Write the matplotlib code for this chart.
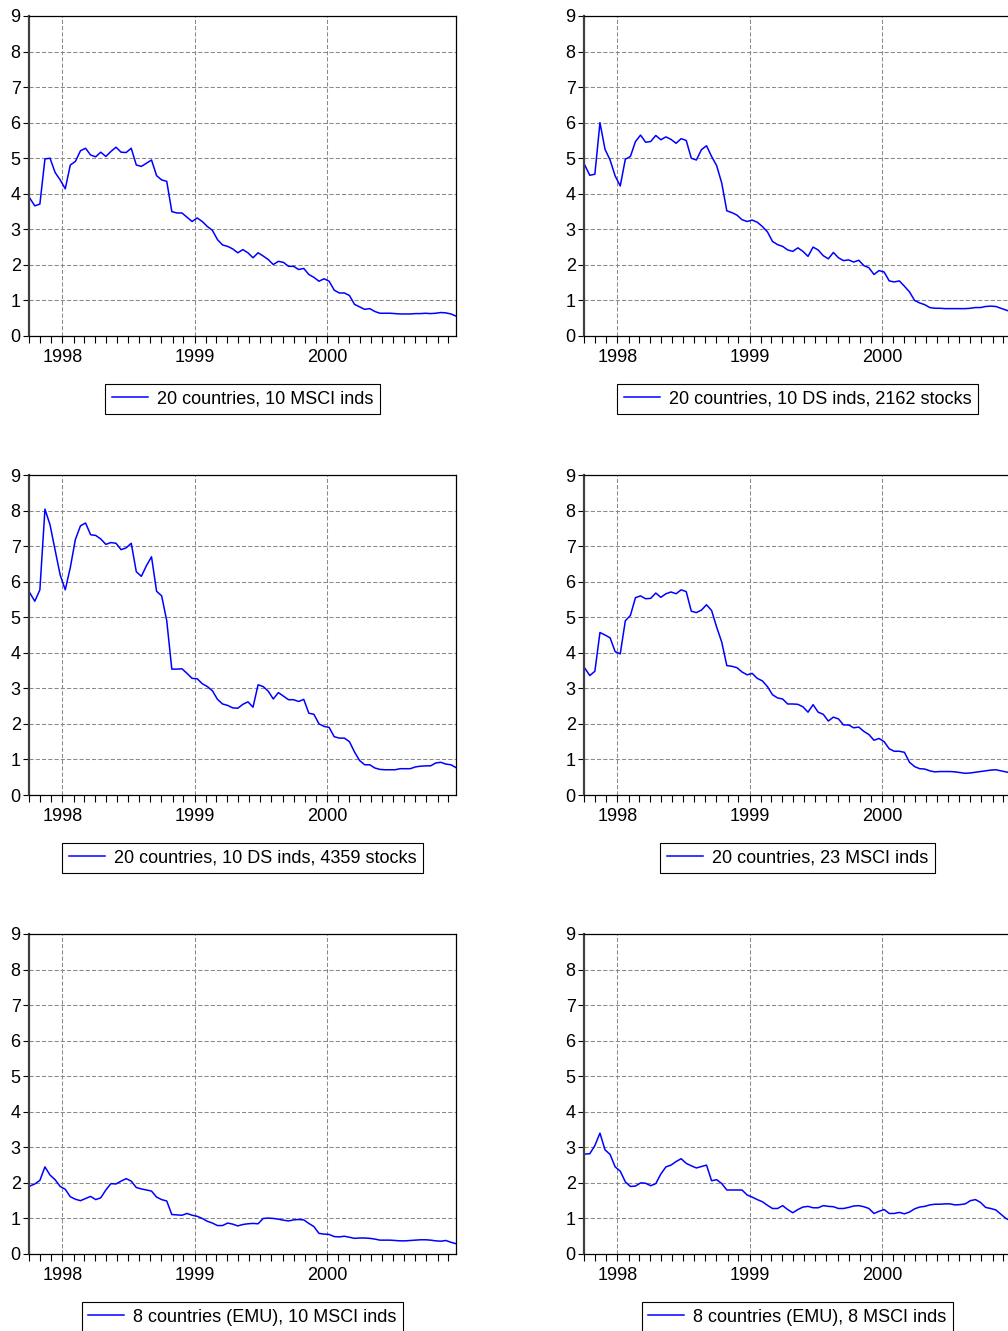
import numpy as np
import pandas as pd
import matplotlib
matplotlib.use('Agg')  # headless
import matplotlib.pyplot as plt
import matplotlib.dates as mdates

plt.rcParams['font.family'] = ['Liberation Sans', 'DejaVu Sans']

# ---------------------------
# Data (bi-weekly readings, Oct 1997 - Dec 2000)
# ---------------------------
dates = pd.date_range('1997-10-03', periods=85, freq='14D')

labels = [
    '20 countries, 10 MSCI inds',
    '20 countries, 10 DS inds, 2162 stocks',
    '20 countries, 10 DS inds, 4359 stocks',
    '20 countries, 23 MSCI inds',
    '8 countries (EMU), 10 MSCI inds',
    '8 countries (EMU), 8 MSCI inds',
]

msci10_20c = [
    3.88, 3.66, 3.71, 4.98, 5.00, 4.60, 4.39, 4.14, 4.81, 4.91,
    5.21, 5.28, 5.09, 5.04, 5.17, 5.05, 5.19, 5.31, 5.17, 5.16,
    5.28, 4.81, 4.77, 4.86, 4.95, 4.51, 4.39, 4.35, 3.50, 3.46,
    3.46, 3.34, 3.22, 3.32, 3.22, 3.08, 2.97, 2.71, 2.56, 2.52,
    2.45, 2.34, 2.43, 2.34, 2.20, 2.34, 2.25, 2.15, 2.01, 2.10,
    2.07, 1.96, 1.96, 1.87, 1.90, 1.73, 1.65, 1.54, 1.61, 1.54,
    1.29, 1.21, 1.21, 1.14, 0.89, 0.82, 0.75, 0.77, 0.69, 0.64,
    0.64, 0.64, 0.63, 0.62, 0.62, 0.62, 0.63, 0.63, 0.64, 0.63,
    0.64, 0.66, 0.65, 0.62, 0.56,
]

ds10_2162 = [
    4.81, 4.52, 4.55, 6.00, 5.25, 4.95, 4.50, 4.22, 4.97, 5.05,
    5.47, 5.65, 5.45, 5.47, 5.64, 5.52, 5.60, 5.53, 5.42, 5.55,
    5.50, 5.00, 4.95, 5.24, 5.35, 5.05, 4.79, 4.30, 3.52, 3.47,
    3.40, 3.27, 3.22, 3.26, 3.20, 3.08, 2.93, 2.66, 2.57, 2.52,
    2.42, 2.38, 2.48, 2.38, 2.24, 2.50, 2.42, 2.26, 2.17, 2.35,
    2.20, 2.12, 2.14, 2.08, 2.13, 1.98, 1.92, 1.73, 1.84, 1.80,
    1.55, 1.52, 1.55, 1.40, 1.24, 1.00, 0.93, 0.88, 0.80, 0.78,
    0.78, 0.77, 0.77, 0.77, 0.77, 0.77, 0.78, 0.80, 0.80, 0.83,
    0.84, 0.83, 0.78, 0.73, 0.68,
]

ds10_4359 = [
    5.69, 5.45, 5.77, 8.04, 7.60, 6.89, 6.19, 5.77, 6.40, 7.19,
    7.57, 7.65, 7.32, 7.30, 7.20, 7.05, 7.10, 7.08, 6.90, 6.95,
    7.08, 6.28, 6.15, 6.45, 6.70, 5.73, 5.60, 4.90, 3.54, 3.54,
    3.55, 3.42, 3.28, 3.27, 3.13, 3.05, 2.93, 2.69, 2.56, 2.52,
    2.45, 2.44, 2.55, 2.62, 2.47, 3.10, 3.05, 2.92, 2.70, 2.88,
    2.78, 2.68, 2.68, 2.63, 2.69, 2.30, 2.27, 2.00, 1.93, 1.90,
    1.64, 1.60, 1.60, 1.50, 1.21, 0.97, 0.85, 0.85, 0.76, 0.72,
    0.71, 0.71, 0.71, 0.74, 0.74, 0.74, 0.79, 0.81, 0.82, 0.82,
    0.90, 0.92, 0.87, 0.85, 0.77,
]

msci23_20c = [
    3.57, 3.36, 3.48, 4.57, 4.50, 4.42, 4.03, 3.97, 4.90, 5.05,
    5.55, 5.60, 5.52, 5.53, 5.68, 5.56, 5.66, 5.71, 5.66, 5.77,
    5.72, 5.17, 5.13, 5.20, 5.35, 5.19, 4.72, 4.30, 3.64, 3.62,
    3.58, 3.46, 3.38, 3.42, 3.28, 3.21, 3.05, 2.82, 2.73, 2.70,
    2.56, 2.56, 2.55, 2.48, 2.33, 2.54, 2.33, 2.27, 2.08, 2.19,
    2.14, 1.97, 1.97, 1.89, 1.91, 1.79, 1.70, 1.54, 1.59, 1.50,
    1.30, 1.23, 1.23, 1.20, 0.92, 0.80, 0.74, 0.73, 0.68, 0.65,
    0.66, 0.66, 0.66, 0.65, 0.63, 0.61, 0.62, 0.64, 0.66, 0.68,
    0.70, 0.71, 0.68, 0.65, 0.62,
]

emu_msci10 = [
    1.91, 1.97, 2.07, 2.45, 2.22, 2.09, 1.90, 1.82, 1.61, 1.54,
    1.50, 1.56, 1.62, 1.53, 1.58, 1.80, 1.98, 1.97, 2.05, 2.12,
    2.05, 1.87, 1.83, 1.80, 1.77, 1.60, 1.53, 1.49, 1.11, 1.10,
    1.09, 1.14, 1.09, 1.06, 1.00, 0.92, 0.87, 0.80, 0.80, 0.87,
    0.84, 0.79, 0.83, 0.85, 0.86, 0.85, 1.00, 1.01, 1.00, 0.98,
    0.95, 0.93, 0.96, 0.97, 0.96, 0.86, 0.77, 0.58, 0.56, 0.55,
    0.49, 0.48, 0.50, 0.47, 0.44, 0.45, 0.45, 0.44, 0.42, 0.39,
    0.39, 0.39, 0.38, 0.37, 0.37, 0.38, 0.39, 0.40, 0.40, 0.39,
    0.37, 0.36, 0.38, 0.33, 0.29,
]

emu_msci8 = [
    2.81, 2.82, 3.05, 3.40, 2.93, 2.80, 2.45, 2.33, 2.03, 1.90,
    1.91, 2.00, 1.99, 1.92, 1.98, 2.25, 2.45, 2.50, 2.60, 2.68,
    2.55, 2.48, 2.42, 2.46, 2.50, 2.06, 2.09, 1.98, 1.80, 1.80,
    1.80, 1.80, 1.66, 1.60, 1.53, 1.47, 1.37, 1.28, 1.28, 1.36,
    1.25, 1.16, 1.25, 1.32, 1.34, 1.30, 1.30, 1.36, 1.34, 1.33,
    1.28, 1.28, 1.31, 1.35, 1.36, 1.33, 1.28, 1.14, 1.20, 1.25,
    1.14, 1.14, 1.17, 1.13, 1.18, 1.27, 1.32, 1.34, 1.38, 1.40,
    1.40, 1.41, 1.41, 1.38, 1.39, 1.41, 1.50, 1.53, 1.45, 1.31,
    1.28, 1.24, 1.12, 1.00, 0.93,
]

series = [msci10_20c, ds10_2162, ds10_4359, msci23_20c, emu_msci10, emu_msci8]

# ---------------------------
# Layout (pixel boxes of each panel on a 1008x1331 canvas)
# ---------------------------
W, H = 1008, 1331
col_left = [29, 584]
row_top = [16, 475, 934]
ax_w, ax_h = 427, 320
fs = 13

fig = plt.figure(figsize=(W / 100, H / 100), dpi=100)

for k, (vals, lab) in enumerate(zip(series, labels)):
    r, c = divmod(k, 2)
    x0 = col_left[c]
    y0 = row_top[r] + ax_h
    ax = fig.add_axes([x0 / W, (H - y0) / H, ax_w / W, ax_h / H])

    ax.plot(dates, vals, color='#0000ff', lw=1.1, label=lab)

    ax.set_xlim(pd.Timestamp('1997-10-01'), pd.Timestamp('2000-12-22'))
    ax.set_ylim(0, 9)
    ax.set_yticks(range(10))

    ax.xaxis.set_major_locator(mdates.YearLocator())
    ax.xaxis.set_major_formatter(mdates.DateFormatter('%Y'))
    ax.xaxis.set_minor_locator(mdates.MonthLocator())

    ax.grid(True, which='major', color='#8a8a8a', lw=0.75, linestyle=(0, (4, 2)))
    ax.tick_params(axis='x', which='both', direction='out', length=5, width=0.8,
                   labelsize=fs, pad=4.5)
    ax.tick_params(axis='y', direction='out', length=4, width=0.8,
                   labelsize=fs, pad=2)

    for side in ['top', 'right', 'bottom']:
        ax.spines[side].set_color('black')
        ax.spines[side].set_linewidth(0.9)
    ax.spines['left'].set_color('#404040')
    ax.spines['left'].set_linewidth(1.6)

    leg = ax.legend(loc='center', bbox_to_anchor=(0.5, -63 / ax_h),
                    fontsize=fs, fancybox=False, framealpha=1,
                    edgecolor='black', handlelength=2.0,
                    borderpad=0.35, handletextpad=0.5)
    leg.get_frame().set_linewidth(0.8)

fig.savefig('out.png', dpi=100)
